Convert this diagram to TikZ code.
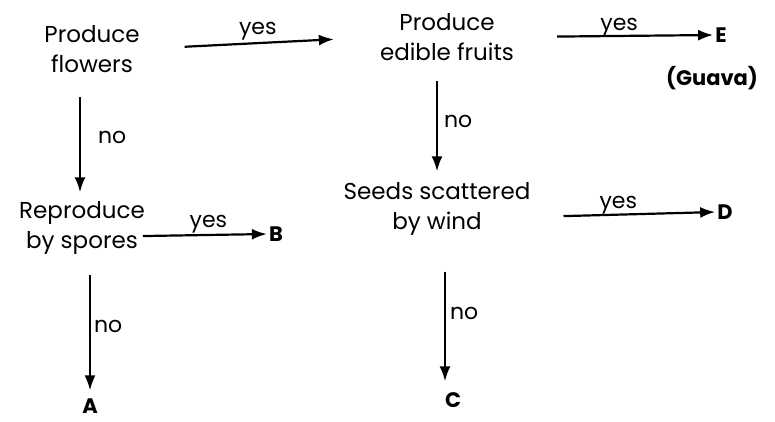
\documentclass[tikz,border=0pt]{standalone}
\usepackage{fontspec}
\setmainfont{Poppins}
\usetikzlibrary{arrows.meta}
\begin{document}
\begin{tikzpicture}[x=1pt,y=-1pt,
  txt/.style={align=center,inner sep=0pt,font=\fontsize{23}{30}\selectfont},
  lbl/.style={inner sep=1pt,font=\fontsize{22}{24}\selectfont},
  leaf/.style={inner sep=1pt,font=\fontsize{21}{24}\selectfont\bfseries},
  arr/.style={draw,line width=2.2pt,-{Latex[length=15pt,width=11pt]}}]
\path[use as bounding box,fill=white] (0,0) rectangle (775,421);

\node[txt] (pf) at (92,49) {Produce\\flowers};
\node[txt] (pef) at (447,37) {Produce\\edible fruits};
\node[txt] (ssw) at (437,209) {Seeds scattered\\by wind};
\node[txt] (rbs) at (82,228) {Reproduce\\by spores};

\node[leaf] (E) at (721,35) {E};
\node[leaf] (D) at (725,212) {D};
\node[leaf] (B) at (276,234) {B};
\node[leaf] (A) at (90,406) {A};
\node[leaf] (C) at (453,400) {C};
\node[leaf] (G) at (712,78) {(Guava)};

\draw[arr,shorten <=45pt,shorten >=46pt] (pf.east) -- node[lbl,above=1pt,xshift=-2pt] {yes} (pef.west);
\draw[arr,shorten <=43pt,shorten >=1pt] (pef.east) -- node[lbl,above=-2pt,xshift=5pt] {yes} (E.west);
\draw[arr,shorten <=20pt,shorten >=11pt] ([xshift=-10pt]pef.south) -- node[lbl,right=5pt] {no} ([xshift=0pt]ssw.north);
\draw[arr,shorten <=33pt,shorten >=1pt] ([yshift=-8pt]ssw.east) -- node[lbl,above=-2pt,xshift=-5pt] {yes} (D.west);
\draw[arr,shorten <=36pt,shorten >=10pt] ([xshift=8pt]ssw.south) -- node[lbl,right=3pt] {no} ([xshift=-8pt]C.north);
\draw[arr,shorten <=24pt,shorten >=9pt] ([xshift=-12pt]pf.south) -- node[lbl,right=16pt] {no} ([xshift=-2pt]rbs.north);
\draw[arr,shorten <=-2pt,shorten >=1pt] ([yshift=-8pt]rbs.east) -- node[lbl,above=0pt,xshift=2pt] {yes} (B.west);
\draw[arr,shorten <=20pt,shorten >=7pt] ([xshift=8pt]rbs.south) -- node[lbl,right=2pt] {no} (A.north);
\end{tikzpicture}
\end{document}
